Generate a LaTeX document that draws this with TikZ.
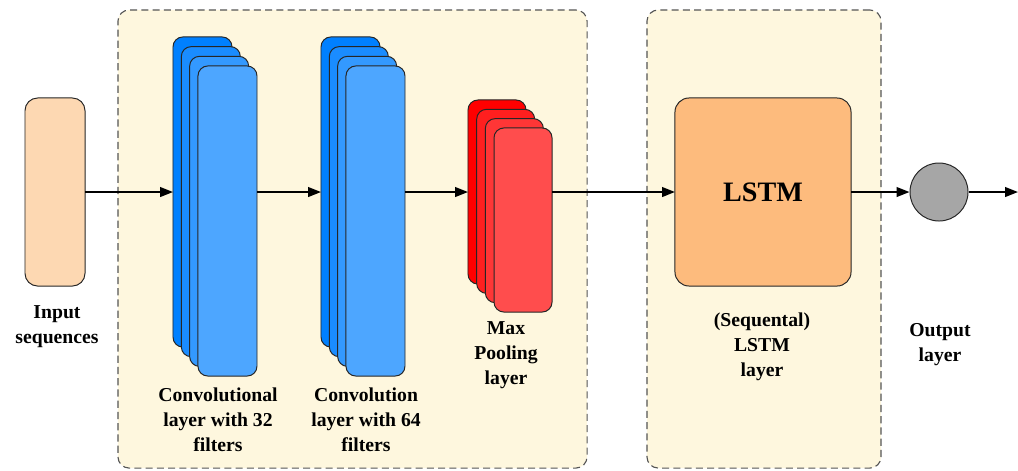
\documentclass[tikz,border=0pt]{standalone}
\usepackage{fontspec}
\setmainfont{Liberation Serif}
\usetikzlibrary{arrows.meta,positioning,calc}
\definecolor{panelbg}{RGB}{254,247,222}
\definecolor{panelline}{RGB}{85,85,85}
\definecolor{inputfill}{RGB}{253,216,178}
\definecolor{lstmfill}{RGB}{253,187,125}
\definecolor{blueA}{RGB}{0,128,255}
\definecolor{blueB}{RGB}{26,140,255}
\definecolor{blueC}{RGB}{51,153,255}
\definecolor{blueD}{RGB}{77,166,255}
\definecolor{redA}{RGB}{255,0,0}
\definecolor{redB}{RGB}{255,31,31}
\definecolor{redC}{RGB}{255,54,54}
\definecolor{redD}{RGB}{255,77,77}
\definecolor{outfill}{RGB}{166,166,166}
\tikzset{panel/.style={draw=panelline,dash pattern=on 5pt off 3pt,fill=panelbg,rounded corners=8pt,line width=0.8pt,inner sep=0pt},
  layer/.style={draw=black!85,rounded corners=7pt,inner sep=0pt,outer sep=0pt,line width=0.7pt},
  flow/.style={-{Triangle[length=3.2mm,width=2.4mm]},line width=1.3pt},
  caption/.style={font=\fontsize{14}{17.7}\selectfont\bfseries,align=center}}

\begin{document}
\begin{tikzpicture}[x=0.025cm,y=-0.025cm]
\useasboundingbox (0,0) rectangle (1018,470);
\node[panel,minimum width=11.725cm,minimum height=11.45cm] (pa) at (352.5,239) {};
\node[panel,minimum width=5.85cm,minimum height=11.45cm] (pb) at (764,239) {};
\node[layer,rounded corners=9pt,fill=inputfill,minimum width=1.5cm,minimum height=4.7cm] (inp) at (55,192) {};
\foreach \i/\c in {1/blueA,2/blueB,3/blueC,4/blueD}{
  \node[layer,fill=\c,minimum width=1.475cm,minimum height=7.75cm] (convA\i) at ({202.5+8.33*(\i-1)},{192+9.67*(\i-1)}) {};
}
\foreach \i/\c in {1/blueA,2/blueB,3/blueC,4/blueD}{
  \node[layer,fill=\c,minimum width=1.475cm,minimum height=7.75cm] (convB\i) at ({350.5+8.33*(\i-1)},{192+9.67*(\i-1)}) {};
}
\foreach \i/\c in {1/redA,2/redB,3/redC,4/redD}{
  \node[layer,fill=\c,minimum width=1.45cm,minimum height=4.6cm] (pool\i) at ({497+8.67*(\i-1)},{192+9.33*(\i-1)}) {};
}
\node[layer,rounded corners=10pt,fill=lstmfill,minimum width=4.4cm,minimum height=4.7cm,font=\fontsize{20}{24}\selectfont\bfseries] (lstm) at (763,192) {LSTM};
\node[draw=black!85,line width=0.7pt,circle,fill=outfill,minimum size=1.45cm,inner sep=0pt] (out) at (939,192) {};
\coordinate (outend) at (1018,192);
% arrows
\draw[flow] (inp.east) -- (convA1.west);
\draw[flow] (convA1.west -| convA4.east) -- (convB1.west);
\draw[flow] (convB1.west -| convB4.east) -- (pool1.west);
\draw[flow] (pool1.west -| pool4.east) -- (lstm.west);
\draw[flow] (lstm.east) -- (out.west);
\draw[flow] (out.east) -- (outend);
% captions
\node[caption] (inpcap) at (57,327) {Input\\sequences};
\node[caption] (convAcap) at (218,420) {Convolutional\\layer with 32\\filters};
\node[caption] (convBcap) at (366,420) {Convolution\\layer with 64\\filters};
\node[caption] (poolcap) at (506,355) {Max\\Pooling\\layer};
\node[caption] (lstmcap) at (762,347) {(Sequental)\\LSTM\\layer};
\node[caption] (outcap) at (940,345) {Output\\layer};
\end{tikzpicture}
\end{document}
